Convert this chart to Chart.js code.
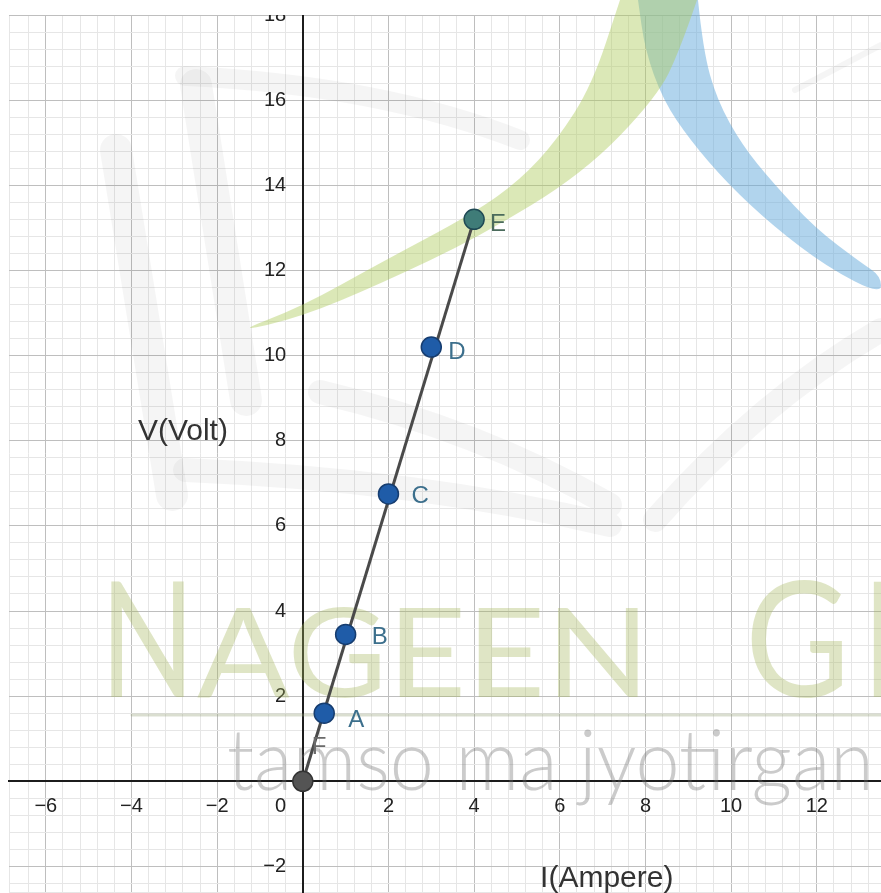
<!DOCTYPE html>
<html>
<head>
<meta charset="utf-8">
<script src="https://cdn.jsdelivr.net/npm/chart.js@4.4.1/dist/chart.umd.min.js"></script>
<style>
  html, body { margin: 0; padding: 0; background: #fff; }
</style>
</head>
<body>
<canvas id="ivChart" width="881" height="893"></canvas>
<script>
var pointNames = ['F', 'A', 'B', 'C', 'D', 'E'];
var currentI = [0, 0.5, 1, 2, 3, 4];
var voltageV = [0, 1.6, 3.45, 6.75, 10.2, 13.2];

// labelled ticks
var xTickValues = [-6, -4, -2, 0, 2, 4, 6, 8, 10, 12];
var yTickValues = [-2, 2, 4, 6, 8, 10, 12, 14, 16, 18];
var xTitle = 'I(Ampere)';
var yTitle = 'V(Volt)';
var watermarkBig = ['N', 'AGEEN', 'G', 'R'];
var watermarkMotto = 'tamso ma jyotirgan';

var FONT = "'Liberation Sans', Arial, sans-serif";
var NB = '\u00A0';

// styles for the points
var pointFill = ['#545454', '#1f5ca8', '#1f5ca8', '#1f5ca8', '#1f5ca8', '#3f7c78'];
var pointEdge = ['#333333', '#163d70', '#163d70', '#163d70', '#163d70', '#1f4a55'];
var labelColor = ['#6a6a6a', '#3c6f8c', '#3c6f8c', '#3c6f8c', '#3c6f8c', '#4b6b5c'];
var labelOffset = [[9, -34], [24, 7], [26, 3], [23, 2], [17, 5], [16, 5]];

function isLabelled(v, list) {
    for (var i = 0; i < list.length; i++) {
        if (Math.abs(v - list[i]) < 1e-6) return true;
    }
    return false;
}

function minus(v) {
    v = Math.round(v);
    return v < 0 ? '\u2212' + Math.abs(v) : String(v);
}

function isMajor(v) {
    return Math.abs(v / 2 - Math.round(v / 2)) < 1e-6;
}

function gridColor(ctx) {
    if (!ctx.tick) return '#e6e6e6';
    return isMajor(ctx.tick.value) ? '#bebebe' : '#e6e6e6';
}

// small font for unlabelled ticks so they take no room
function tickFont(list) {
    return function(ctx) {
        var on = ctx.tick && isLabelled(ctx.tick.value, list);
        return { family: FONT, size: on ? 20 : 1 };
    };
}

function smoothShape(ctx, pts) {
    ctx.beginPath();
    ctx.moveTo(pts[0][0], pts[0][1]);
    for (var i = 1; i < pts.length - 1; i++) {
        var mx = (pts[i][0] + pts[i + 1][0]) / 2;
        var my = (pts[i][1] + pts[i + 1][1]) / 2;
        ctx.quadraticCurveTo(pts[i][0], pts[i][1], mx, my);
    }
    var e = pts[pts.length - 1];
    ctx.lineTo(e[0], e[1]);
    ctx.closePath();
    ctx.fill();
}

function drawWatermark(chart) {
    var ctx = chart.ctx;
    var a = chart.chartArea;
    ctx.save();
    ctx.fillStyle = '#ffffff';
    ctx.fillRect(0, 0, chart.width, a.top);

    // faint grey brush strokes
    ctx.lineCap = 'round';
    ctx.strokeStyle = 'rgba(0,0,0,0.04)';
    ctx.lineWidth = 32;
    ctx.beginPath();
    ctx.moveTo(116, 150); ctx.lineTo(172, 495);
    ctx.moveTo(196, 85); ctx.lineTo(246, 400);
    ctx.stroke();
    ctx.lineWidth = 20;
    ctx.beginPath();
    ctx.moveTo(185, 76); ctx.quadraticCurveTo(380, 85, 520, 140);
    ctx.stroke();
    ctx.lineWidth = 24;
    ctx.beginPath();
    ctx.moveTo(320, 392); ctx.quadraticCurveTo(480, 430, 610, 505);
    ctx.moveTo(185, 470); ctx.quadraticCurveTo(420, 480, 610, 525);
    ctx.moveTo(655, 520); ctx.quadraticCurveTo(760, 400, 881, 330);
    ctx.stroke();
    ctx.lineWidth = 6;
    ctx.beginPath();
    ctx.moveTo(795, 90); ctx.lineTo(881, 45);
    ctx.stroke();

    // blue crescent
    ctx.fillStyle = 'rgba(100,170,220,0.5)';
    smoothShape(ctx, [[698, 0], [703, 50], [717, 100], [742, 145], [773, 183], [815, 228],
                      [860, 262], [881, 276], [881, 295], [827, 267], [773, 226], [727, 183],
                      [690, 140], [663, 100], [645, 50], [638, 0]]);

    // green crescent
    ctx.fillStyle = 'rgba(175,205,95,0.45)';
    smoothShape(ctx, [[697, 0], [680, 50], [657, 97], [584, 173], [479, 237], [380, 284],
                      [301, 317], [233, 333], [301, 307], [380, 263], [474, 213], [520, 180],
                      [557, 140], [592, 85], [620, 0]]);

    // NAGEEN GR
    ctx.fillStyle = 'rgba(165,182,95,0.36)';
    ctx.textBaseline = 'alphabetic';
    var boxes = [[100, 195, 697, 162], [197, 650, 697, 125], [745, 850, 697, 162], [860, 955, 697, 162]];
    for (var i = 0; i < watermarkBig.length; i++) {
        var b = boxes[i];
        ctx.font = b[3] + 'px Lato, ' + FONT;
        var w = ctx.measureText(watermarkBig[i]).width;
        ctx.save();
        ctx.translate(b[0], b[2]);
        ctx.scale((b[1] - b[0]) / w, 1);
        ctx.fillText(watermarkBig[i], 0, 0);
        ctx.restore();
    }
    ctx.strokeStyle = 'rgba(150,160,120,0.35)';
    ctx.lineWidth = 3;
    ctx.beginPath();
    ctx.moveTo(132, 715); ctx.lineTo(881, 715);
    ctx.stroke();

    // motto
    ctx.fillStyle = 'rgba(110,110,110,0.36)';
    ctx.font = '300 84px Lato, ' + FONT;
    var part = ctx.measureText('tamso ma jyotirg').width;
    ctx.save();
    ctx.translate(227, 790);
    ctx.scale(565 / part, 1);
    ctx.fillText(watermarkMotto, 0, 0);
    ctx.restore();
    ctx.restore();
}

function drawLabels(chart) {
    var ctx = chart.ctx;
    var meta = chart.getDatasetMeta(0);
    ctx.save();
    ctx.textAlign = 'left';
    ctx.textBaseline = 'middle';
    ctx.font = '24px ' + FONT;
    meta.data.forEach(function(pt, i) {
        ctx.fillStyle = labelColor[i];
        ctx.fillText(pointNames[i], pt.x + labelOffset[i][0], pt.y + labelOffset[i][1]);
    });

    // axis titles placed in graph coordinates
    var xs = chart.scales.x, ys = chart.scales.y;
    ctx.fillStyle = '#333333';
    ctx.font = '30px ' + FONT;
    ctx.fillText(yTitle, xs.getPixelForValue(-3.85), ys.getPixelForValue(8.2));
    ctx.fillText(xTitle, xs.getPixelForValue(5.54), ys.getPixelForValue(-2.28));
    ctx.restore();
}

var overlay = {
    id: 'overlay',
    beforeDatasetsDraw: function(chart) { drawWatermark(chart); },
    afterDatasetsDraw: function(chart) { drawLabels(chart); }
};

var points = currentI.map(function(x, i) { return { x: x, y: voltageV[i] }; });
var last = currentI.length - 1;
var segment = [points[0], points[last]];

var ctx = document.getElementById('ivChart').getContext('2d');
new Chart(ctx, {
    type: 'scatter',
    data: {
        datasets: [{
            label: 'points',
            data: points,
            pointRadius: 10,
            pointBackgroundColor: pointFill,
            pointBorderColor: pointEdge,
            pointBorderWidth: 1.5,
            order: 0
        }, {
            label: 'segment',
            data: segment,
            showLine: true,
            borderColor: '#4a4a4a',
            borderWidth: 3,
            pointRadius: 0,
            order: 1
        }]
    },
    options: {
        responsive: false,
        animation: false,
        layout: { autoPadding: false, padding: { left: 9, top: 15, right: 0, bottom: 0 } },
        plugins: {
            legend: { display: false },
            tooltip: { enabled: false }
        },
        scales: {
            x: {
                type: 'linear',
                min: -6.86,
                max: 13.5,
                position: { y: 0 },
                grid: { color: gridColor, lineWidth: 1, drawTicks: true, tickLength: 13, tickColor: 'rgba(0,0,0,0)' },
                border: { color: '#1c1c1c', width: 2 },
                ticks: {
                    stepSize: 0.4,
                    autoSkip: false,
                    maxRotation: 0,
                    padding: 0,
                    color: '#222222',
                    font: tickFont(xTickValues),
                    callback: function(v) {
                        if (!isLabelled(v, xTickValues)) return '';
                        if (Math.abs(v) < 1e-6) return '0' + NB.repeat(8);
                        return minus(v);
                    }
                }
            },
            y: {
                type: 'linear',
                min: -2.61,
                max: 18,
                position: { x: 0 },
                grid: { color: gridColor, lineWidth: 1, drawTicks: false },
                border: { color: '#1c1c1c', width: 2 },
                ticks: {
                    stepSize: 0.4,
                    autoSkip: false,
                    padding: 0,
                    color: '#222222',
                    font: tickFont(yTickValues),
                    callback: function(v) {
                        if (!isLabelled(v, yTickValues)) return '';
                        return minus(v) + NB.repeat(3);
                    }
                }
            }
        }
    },
    plugins: [overlay]
});
</script>
</body>
</html>
